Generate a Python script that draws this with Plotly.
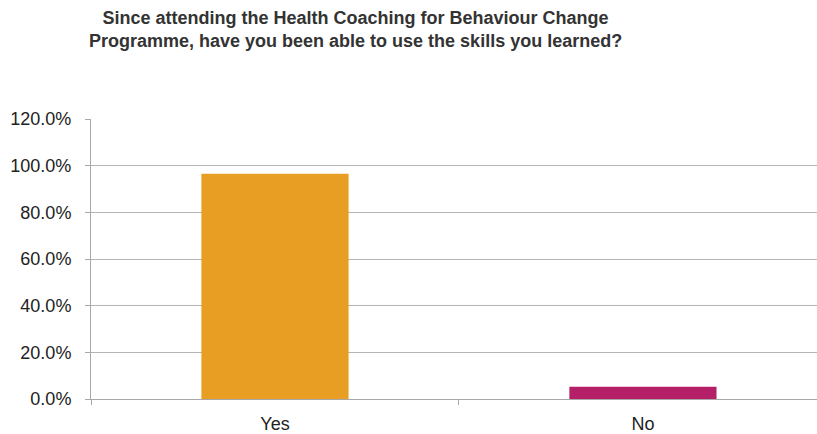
import plotly.graph_objects as go

# Survey responses (% of respondents)
answers = ["Yes", "No"]
shares = [96.5, 5.3]
bar_colors = ["#E89E22", "#B41F68"]

title_text = ("<b>Since attending the Health Coaching for Behaviour Change<br>"
              "Programme, have you been able to use the skills you learned?</b>")

fig = go.Figure(
    go.Bar(
        x=answers,
        y=shares,
        marker=dict(color=bar_colors, line=dict(width=0)),
        width=0.4,
        hoverinfo="x+y",
    )
)

axis_grey = "#a8a8a8"

fig.add_annotation(
    text=title_text,
    xref="paper",
    yref="paper",
    x=0.365,
    y=1.405,
    xanchor="center",
    yanchor="top",
    showarrow=False,
    align="center",
    font=dict(size=18, color="#333333"),
)

fig.update_layout(
    width=817,
    height=434,
    margin=dict(l=91, r=0, t=119, b=35),
    paper_bgcolor="white",
    plot_bgcolor="white",
    showlegend=False,
    font=dict(family="Liberation Sans, Arial, sans-serif", color="#222222"),
    xaxis=dict(
        range=[-0.5, 1.473],
        tickson="boundaries",
        ticks="outside",
        ticklen=5,
        tickcolor=axis_grey,
        showline=True,
        linecolor=axis_grey,
        linewidth=1,
        showgrid=False,
        tickfont=dict(size=18, color="#222222"),
        ticklabelstandoff=8,
    ),
    yaxis=dict(
        range=[0, 120],
        dtick=20,
        tickformat=".1f",
        ticksuffix="%",
        ticks="outside",
        ticklen=5,
        tickcolor=axis_grey,
        showline=True,
        linecolor=axis_grey,
        linewidth=1,
        showgrid=True,
        gridcolor="#b4b4b4",
        gridwidth=1,
        zeroline=False,
        tickfont=dict(size=18, color="#222222"),
        ticklabelstandoff=10,
    ),
)

fig.write_html("out.html")
